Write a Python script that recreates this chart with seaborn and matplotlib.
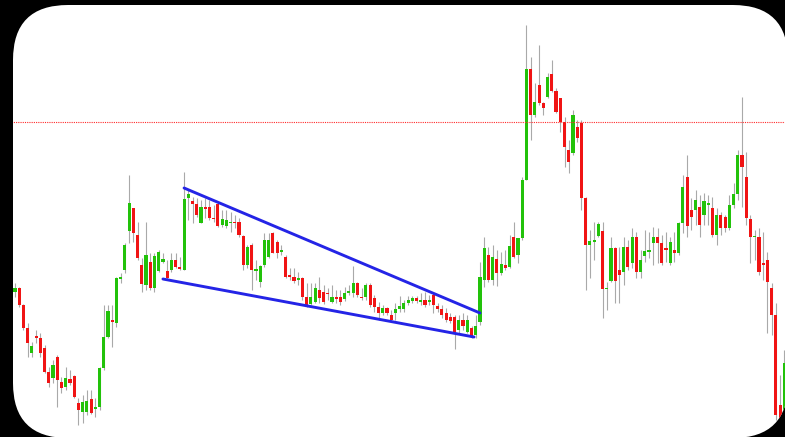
import matplotlib
matplotlib.use("Agg")
import matplotlib.pyplot as plt
from matplotlib.patches import FancyBboxPatch
import pandas as pd
import seaborn as sns

# OHLC values (arbitrary price units)
opens = [145, 149, 132, 109, 84, 101, 99, 89, 65, 59,
         80, 55, 50, 58, 61, 34, 25, 25, 38, 28,
         30, 69, 100, 117, 114, 158, 167, 206, 229, 202,
         172, 152, 175, 149, 166, 175, 166, 167, 177, 170,
         167, 239, 236, 233, 214, 230, 230, 219, 233, 212,
         211, 214, 215.5, 215, 201, 172, 192, 166, 155, 172,
         180, 204, 195, 185, 180, 162, 160, 157, 159, 140,
         133, 135, 147, 145, 144, 135, 140, 140, 138, 144,
         144, 154, 140, 140, 152, 139, 130, 124, 129, 122,
         124, 128, 128, 134, 136, 139, 135, 137, 135, 142,
         131, 128, 124, 120, 120, 107, 117, 105, 109, 102,
         115, 157, 182, 157, 178, 164, 172, 170, 200, 182,
         199, 257, 368, 322, 352, 334, 340, 363, 346, 339,
         315, 287, 284, 310, 314, 239, 192, 195, 201, 206,
         148, 156, 189, 167, 165, 190, 174, 200, 165, 181,
         185, 194, 200, 194, 189, 174, 187, 184, 214, 260,
         227, 227, 230, 222, 232, 229, 202, 222, 220, 209,
         232, 243, 282, 260, 218, 200, 200, 174, 177, 149,
         122, 32, 24]
closes = [149, 132, 109, 94, 91, 99, 84, 65, 54, 72,
          57, 49, 59, 54, 40, 27, 35, 36, 24, 30,
          69, 100, 126, 115, 159, 160, 192, 234, 204, 179,
          153, 182, 149, 181, 185, 178, 159, 177, 170, 168,
          238, 243, 233, 222, 230, 228, 219, 218, 211, 218,
          217, 215.5, 214, 202, 172, 190, 167, 168, 171, 197,
          197, 184, 184, 187, 160, 160, 156, 159, 140, 132,
          140, 149, 139, 135, 143, 140, 138, 135, 144, 146,
          154, 142, 139, 152, 132, 130, 124, 129, 124, 117,
          128, 131, 134, 137, 139, 136, 137, 132, 137, 132,
          128, 122, 117, 116, 105, 117, 111, 117, 100, 111,
          160, 189, 157, 180, 164, 173, 169, 191, 180, 199,
          257, 368, 322, 335, 334, 329, 360, 346, 325, 315,
          290, 275, 322, 299, 239, 192, 196, 197, 213, 148,
          149.5, 189, 156, 162, 190, 170, 200, 165, 177, 186,
          187, 200, 194, 174, 187, 195, 184, 214, 250, 211,
          220, 237, 212, 236, 234, 202, 222, 209, 209, 232,
          243, 282, 270, 219, 200, 201.5, 165, 172, 155, 122,
          22, 0, 74]
highs = [154, 150, 133, 114, 95, 107, 104, 92, 70, 77,
         82, 60, 70, 67, 62, 39, 42, 47, 47, 39,
         70, 132, 132, 132, 160, 164, 194, 262, 229, 215,
         179, 215, 184, 184, 187, 184, 177, 184, 184, 180,
         265, 247, 240, 239, 237, 239, 237, 232, 234, 227,
         227, 225, 222, 219, 202, 192, 194, 177, 172, 204,
         204, 205, 197, 192, 182, 169, 169, 165, 160, 154,
         154, 154, 160, 152, 149, 152, 147, 147, 150, 152,
         171, 155, 149, 154, 154, 142, 135, 132, 130, 127,
         134, 141, 137, 141, 141, 141, 144, 145, 142, 144,
         134, 132, 129, 124, 122, 122, 124, 122, 111, 122,
         175, 200, 190, 192, 187, 185, 187, 202, 215, 199,
         260, 412, 380, 354, 392, 335, 364, 377, 349, 339,
         320, 297, 327, 317, 317, 240, 207, 215, 215, 215,
         155, 200, 190, 190, 200, 197, 209, 205, 187, 207,
         205, 210, 209, 202, 205, 200, 205, 215, 262, 282,
         239, 247, 242, 244, 242, 240, 229, 225, 222, 242,
         254, 287, 340, 285, 222, 207, 209, 205, 185, 154,
         134, 62, 87]
lows = [140, 130, 107, 80, 80, 94, 80, 64, 50, 54,
        30, 44, 47, 52, 39, 12, 14, 22, 23, 20,
        27, 67, 99, 90, 110, 154, 164, 194, 195, 177,
        145, 147, 147, 145, 165, 174, 157, 165, 169, 167,
        167, 217, 214, 220, 214, 219, 217, 215, 210, 210,
        209, 205, 209, 200, 167, 169, 147, 157, 150, 170,
        179, 184, 179, 182, 159, 157, 154, 152, 137, 130,
        132, 134, 134, 133, 137, 134, 134, 132, 136, 142,
        140, 140, 137, 137, 130, 125, 117, 122, 122, 115,
        117, 125, 125, 132, 134, 134, 132, 130, 132, 124,
        125, 119, 115, 114, 88, 104, 107, 104, 99, 99,
        112, 150, 155, 152, 151, 162, 167, 169, 179, 174,
        197, 257, 297, 320, 332, 322, 339, 345, 324, 305,
        270, 264, 282, 295, 227, 147, 159, 177, 200, 119,
        127, 155, 134, 134, 152, 167, 169, 159, 159, 175,
        179, 172, 174, 172, 175, 172, 175, 182, 204, 200,
        207, 212, 200, 212, 212, 200, 192, 202, 205, 207,
        229, 237, 230, 212, 174, 177, 162, 157, 104, 102,
        17, -3, 17]

# red dotted resistance level and the two wedge lines (candle index, price)
resistance_level = 315
wedge_upper_x = [40, 110]
wedge_upper_y = [249, 124]
wedge_lower_x = [35, 108.6]
wedge_lower_y = [158, 100]

df = pd.DataFrame({"open": opens, "high": highs, "low": lows, "close": closes})
df["idx"] = range(len(df))
df["up"] = df["close"] >= df["open"]
df["body_low"] = df[["open", "close"]].min(axis=1)
df["body_h"] = (df["close"] - df["open"]).abs().clip(lower=1.5)
colors = ["#22c20a" if u else "#f01414" for u in df["up"]]

sns.set_style("white")
fig = plt.figure(figsize=(7.85, 4.37), dpi=100)
fig.patch.set_facecolor("black")

# rounded white panel, drawn in pixel units
bg = fig.add_axes([0, 0, 1, 1])
bg.set_xlim(0, 785)
bg.set_ylim(437, 0)
bg.axis("off")
panel = FancyBboxPatch((13, 5), 775, 433, boxstyle="round,pad=0,rounding_size=55",
                       fc="white", ec="none")
bg.add_patch(panel)

ax = fig.add_axes([0, 0, 1, 1])
ax.set_facecolor("none")
step = 4.227
ax.set_xlim(-15 / step, 770 / step)
ax.set_ylim(0, 437)
ax.axis("off")

wicks = ax.vlines(df["idx"], df["low"], df["high"], color="#a9a9a9", lw=0.8, zorder=1)
bars = ax.bar(df["idx"], df["body_h"], bottom=df["body_low"], width=0.74,
              color=colors, linewidth=0, zorder=2)
hline = ax.axhline(resistance_level, color="#ff2a2a", lw=0.8, ls=(0, (1, 1)), zorder=3)

sns.lineplot(x=wedge_upper_x, y=wedge_upper_y, ax=ax, color="#2424e6", linewidth=2.1,
             sort=False, zorder=4)
sns.lineplot(x=wedge_lower_x, y=wedge_lower_y, ax=ax, color="#2424e6", linewidth=2.1,
             sort=False, zorder=4)

wicks.set_clip_path(panel)
for b in bars:
    b.set_clip_path(panel)
for ln in ax.lines:
    ln.set_clip_path(panel)

fig.savefig("out.png", dpi=100, facecolor="black")
